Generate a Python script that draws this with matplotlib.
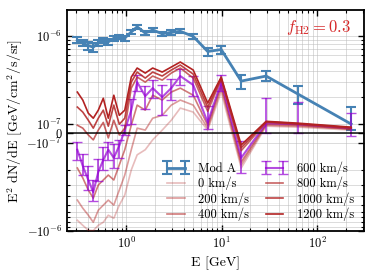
import numpy as np
import matplotlib
matplotlib.use("Agg")
from matplotlib import pyplot as plt
from matplotlib.ticker import SymmetricalLogLocator, LogLocator, NullFormatter

plt.rcParams['font.family'] = ['cmr10', 'DejaVu Serif']
plt.rcParams['mathtext.fontset'] = 'cm'
plt.rcParams['axes.formatter.use_mathtext'] = True

# energy bins [GeV]
E = np.array([0.307, 0.350, 0.400, 0.451, 0.509, 0.574, 0.648, 0.740, 0.845, 0.964,
              1.128, 1.30, 1.58, 1.89, 2.38, 2.96, 3.68, 5.03, 7.13, 9.88,
              16.0, 29.2, 63.2, 227.0])

# all fluxes in units of 1e-7 GeV/cm^2/s/sr
unit = 1e-7
modA = np.array([8.9, 8.25, 7.7, 7.4, 8.25, 8.8, 8.5, 9.3, 9.65, 9.4,
                 11.0, 12.6, 10.7, 11.6, 10.5, 10.9, 11.2, 9.8, 6.6, 6.95,
                 3.04, 3.47, 2.16, 0.95])
modA_err = np.array([0.7, 0.7, 0.8, 0.9, 0.7, 0.6, 0.6, 0.6, 0.6, 0.6,
                     0.6, 0.6, 0.6, 0.6, 0.6, 0.6, 0.6, 0.6, 0.7, 0.7,
                     0.55, 0.45, 0.5, 0.6])

v0 = [-7.55, -8.61, -9.82, -9.9, -8.61, -7.95, -6.61, -7.16, -5.08, -3.9,
      -2.02, -1.36, -1.19, -0.67, 0.33, 1.09, 1.5, 1.35, 0.33, 2.28,
      -1.92, 0.73, 0.63, 0.33]
v200 = [-4.45, -5.50, -6.61, -7.95, -5.80, -5.08, -4.45, -5.08, -3.42, -2.31,
        -1.19, 0.53, 0.33, 1.15, 1.24, 1.62, 1.85, 1.62, 0.53, 2.53,
        -1.77, 0.83, 0.73, 0.43]
v400 = [-1.92, -2.49, -3.42, -4.23, -3.0, -2.63, -2.31, -2.63, -1.77, -1.19,
        0.83, 1.62, 1.42, 2.10, 1.85, 2.28, 2.53, 2.10, 0.83, 2.74,
        -1.64, 0.93, 0.83, 0.43]
v600 = [-1.19, -1.82, -2.63, -3.61, -2.13, -1.55, -1.19, -1.47, -1.07, 0.33,
        1.42, 2.96, 2.05, 2.53, 2.0, 2.53, 3.47, 2.74, 1.03, 2.96,
        -1.47, 1.01, 0.93, 0.53]
v600_err = [0.35, 0.5, 0.8, 1.0, 0.6, 0.45, 0.35, 0.45, 0.4, 0.5,
            0.5, 0.6, 0.6, 0.6, 0.75, 0.7, 0.7, 0.7, 0.55, 0.6,
            0.7, 0.95, 0.85, 0.78]
v800 = [0.83, 0.53, -0.17, -0.67, 0.33, 1.03, -0.47, 1.09, -0.17, 0.53,
        2.53, 3.38, 2.96, 3.47, 3.12, 3.75, 4.28, 3.29, 1.38, 3.20,
        -1.22, 1.03, 0.93, 0.53]
v1000 = [1.54, 1.35, 1.09, 0.53, 1.15, 1.42, 0.73, 1.62, 0.93, 1.15,
         2.96, 3.85, 3.29, 3.85, 3.47, 4.06, 4.63, 3.65, 1.54, 3.29,
         -1.13, 1.05, 0.98, 0.58]
v1200 = [2.28, 1.85, 1.31, 1.15, 1.42, 1.94, 1.15, 2.10, 1.24, 1.42,
         3.38, 4.28, 3.75, 4.28, 3.85, 4.39, 5.01, 4.06, 1.71, 3.38,
         -1.05, 1.06, 1.01, 0.63]

fig = plt.figure(figsize=(3.73, 2.76), dpi=100)
ax = fig.add_axes([0.18, 0.163, 0.796, 0.801])

ax.errorbar(E, modA * unit, yerr=modA_err * unit, color='#4682b4', lw=2,
            elinewidth=1.5, capsize=3.5, capthick=1.5, label='Mod A', zorder=2)

red = '#b22222'
lines = [(v0, '0 km/s', 0.3), (v200, '200 km/s', 0.45), (v400, '400 km/s', 0.6)]
for v, lab, a in lines:
    ax.plot(E, np.array(v) * unit, color=red, alpha=a, lw=1.2, label=lab, zorder=3)

ax.errorbar(E, np.array(v600) * unit, yerr=np.array(v600_err) * unit,
            color='darkviolet', alpha=0.7, lw=1.5, elinewidth=1.3, capsize=3.5,
            label='600 km/s', zorder=4)

lines = [(v800, '800 km/s', 0.7), (v1000, '1000 km/s', 0.85), (v1200, '1200 km/s', 1.0)]
for v, lab, a in lines:
    ax.plot(E, np.array(v) * unit, color=red, alpha=a, lw=1.2, label=lab, zorder=5)

ax.axhline(0, color='k', lw=1.3, alpha=0.8, zorder=6)

ax.set_xscale('log')
ax.set_yscale('symlog', linthresh=1e-7, linscale=0.1)
ax.set_xlim(0.24, 310)
ax.set_ylim(-1e-6, 1.96e-6)
ax.yaxis.set_minor_locator(SymmetricalLogLocator(linthresh=1e-7, base=10,
                                                 subs=np.arange(2, 10)))
ax.yaxis.set_minor_formatter(NullFormatter())
ax.xaxis.set_minor_locator(LogLocator(base=10, subs=np.arange(2, 10), numticks=20))

ax.grid(which='both', color='#bbbbbb', lw=0.6, alpha=0.6)
ax.tick_params(which='both', direction='in', top=True, right=True, labelsize=9)
ax.tick_params(which='major', length=4, width=1)
ax.tick_params(which='minor', length=2.5, width=0.8)
for s in ax.spines.values():
    s.set_linewidth(1.3)

ax.set_xlabel('E [GeV]', fontsize=10)
ax.set_ylabel(r'E$^2$ dN/dE $[\mathrm{GeV/cm^2/s/sr}]$', fontsize=10, labelpad=1)
ax.text(0.955, 0.92, r'$f_{\rm H2} = 0.3$', color='#d62728', fontsize=12,
        ha='right', va='center', transform=ax.transAxes)

order = ['Mod A', '0 km/s', '200 km/s', '400 km/s',
         '600 km/s', '800 km/s', '1000 km/s', '1200 km/s']
handles, labels = ax.get_legend_handles_labels()
hmap = dict(zip(labels, handles))
ax.legend([hmap[k] for k in order], order, loc='lower right', ncol=2,
          frameon=False, fontsize=9, numpoints=2, handlelength=2.0,
          labelspacing=0.15, columnspacing=1.0, borderaxespad=0.4)

fig.savefig('out.png', dpi=100)
